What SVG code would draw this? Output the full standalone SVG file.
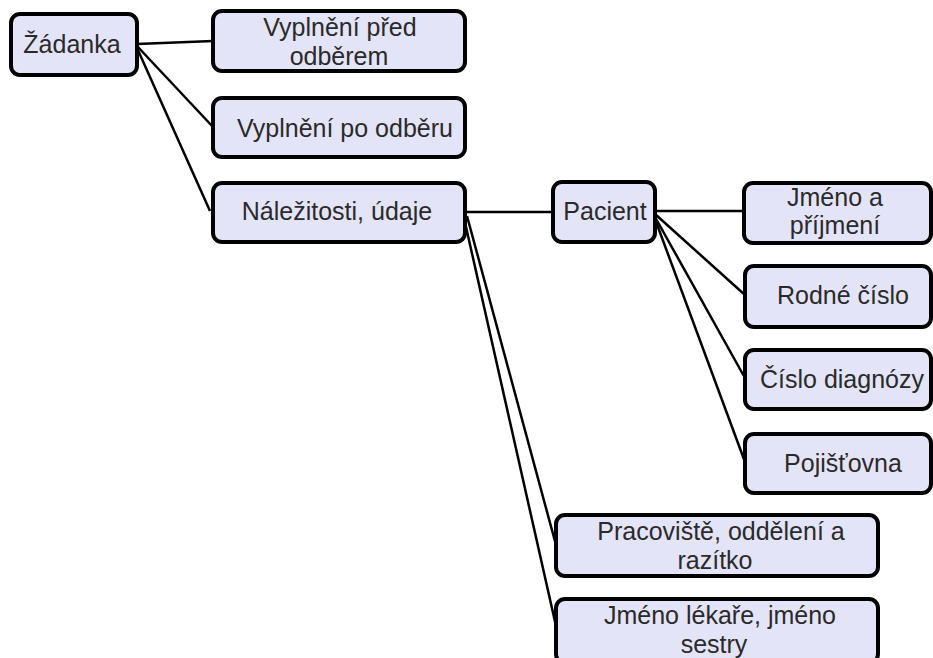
<svg xmlns="http://www.w3.org/2000/svg" width="933" height="658" viewBox="0 0 933 658">
<style>
.box{fill:#e4e4f8;stroke:#000;stroke-width:4}
.t{font-family:"Liberation Sans",Arial,sans-serif;font-size:25px;fill:#2a2a2a;text-anchor:middle}
.c{stroke:#000;stroke-width:2.5;fill:none}
</style>
<rect width="933" height="658" fill="#fff"/>
<g id="connectors">
<line class="c" x1="137" y1="44" x2="213" y2="41"/>
<line class="c" x1="137" y1="46" x2="213" y2="127"/>
<line class="c" x1="137" y1="48" x2="210" y2="211"/>
<line class="c" x1="465" y1="212" x2="553" y2="212"/>
<line class="c" x1="467" y1="216" x2="556" y2="545"/>
<line class="c" x1="464" y1="218" x2="556" y2="626"/>
<line class="c" x1="655" y1="211" x2="744" y2="211"/>
<line class="c" x1="655" y1="214" x2="745" y2="295"/>
<line class="c" x1="655" y1="217" x2="745" y2="378"/>
<line class="c" x1="655" y1="219" x2="745" y2="462"/>
</g>
<g id="zadanka"><rect class="box" x="11" y="14" width="126" height="61" rx="9"/><text class="t" x="72" y="53">Žádanka</text></g>
<g id="pred"><rect class="box" x="213" y="11" width="252" height="60" rx="9"/><text class="t" x="340" y="36">Vyplnění před</text><text class="t" x="339" y="65">odběrem</text></g>
<g id="po"><rect class="box" x="213" y="98" width="252" height="59" rx="9"/><text class="t" x="345" y="137">Vyplnění po odběru</text></g>
<g id="nalezitosti"><rect class="box" x="213" y="183" width="252" height="59" rx="9"/><text class="t" x="337" y="220">Náležitosti, údaje</text></g>
<g id="pacient"><rect class="box" x="553" y="182" width="102" height="60" rx="9"/><text class="t" x="605" y="220">Pacient</text></g>
<g id="jmeno"><rect class="box" x="744" y="183" width="187" height="60" rx="9"/><text class="t" x="835" y="206">Jméno a</text><text class="t" x="835" y="234">příjmení</text></g>
<g id="rodne"><rect class="box" x="745" y="266" width="186" height="61" rx="9"/><text class="t" x="843" y="304">Rodné číslo</text></g>
<g id="diagnoza"><rect class="box" x="745" y="350" width="186" height="59" rx="9"/><text class="t" x="842" y="388">Číslo diagnózy</text></g>
<g id="pojistovna"><rect class="box" x="745" y="434" width="186" height="59" rx="9"/><text class="t" x="843" y="472">Pojišťovna</text></g>
<g id="pracoviste"><rect class="box" x="556" y="515" width="322" height="61" rx="9"/><text class="t" x="721" y="540">Pracoviště, oddělení a</text><text class="t" x="715" y="569">razítko</text></g>
<g id="lekar"><rect class="box" x="556" y="599" width="322" height="64" rx="9"/><text class="t" x="720" y="624">Jméno lékaře, jméno</text><text class="t" x="714" y="653">sestry</text></g>
</svg>
